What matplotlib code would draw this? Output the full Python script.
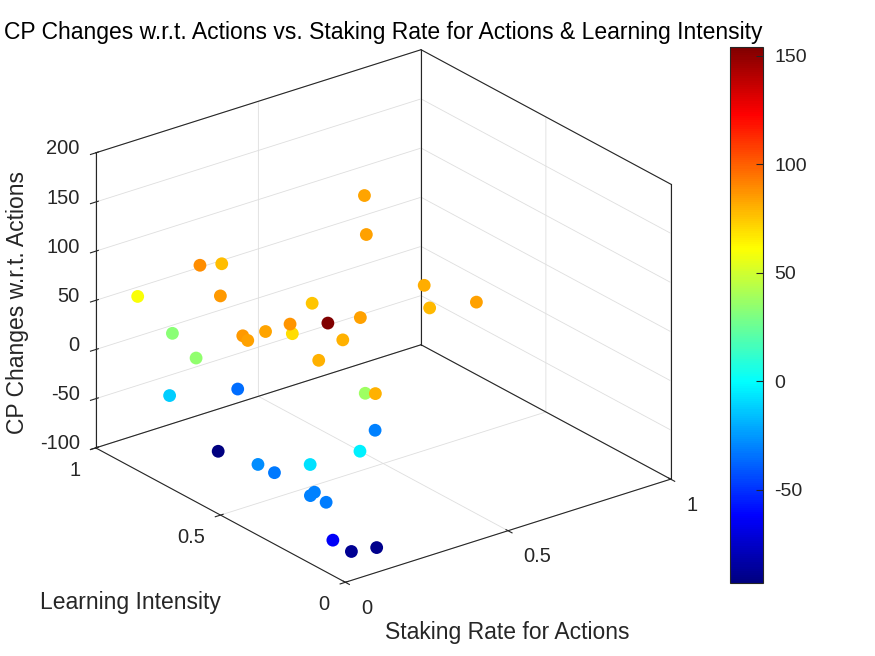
import matplotlib
matplotlib.use('Agg')
import matplotlib.pyplot as plt
import numpy as np
from matplotlib.colors import LinearSegmentedColormap

plt.rcParams['font.family'] = ['Liberation Sans', 'DejaVu Sans']
plt.rcParams['grid.color'] = '#dedede'
plt.rcParams['grid.linewidth'] = 0.6
plt.rcParams['axes.unicode_minus'] = False

# data (colour = CP change)
staking = [0.19, 0.28, 0.06, 0.13, 0.09, 0.03, 0.03, 0.10, 0.04, 0.02,
           0.26, 0.32, 0.16, 0.19, 0.00, 0.33, 0.23, 0.11, 0.78, 0.64,
           0.58, 0.52, 0.61, 0.23, 0.10, 0.36, 0.16, 0.20, 0.00, 0.02,
           0.03, 0.00, 0.02, 0.01, 0.00, 0.08, 0.15]
learning = [0.83, 0.86, 0.91, 0.67, 0.81, 0.45, 0.43, 0.45, 0.65, 0.73,
            0.77, 0.55, 0.43, 0.46, 0.07, 0.37, 0.31, 0.25, 0.94, 0.75,
            0.44, 0.34, 0.27, 0.22, 0.01, 0.35, 0.15, 0.77, 0.35, 0.31,
            0.18, 0.14, 0.15, 0.09, 0.05, 0.08, 0.07]
cp_change = [89, 77, 60, 86, 33, 86, 84, 83, 35, -12,
             -36, 75, 87, 70, 154, 84, 80, 80, 83, 84,
             81, 78, 84, 38, 80, -31, -4, -93, -28, -33,
             -8, -31, -31, -32, -64, -88, -90]

xticks = [0, 0.5, 1]
xticklabels = ['0', '0.5', '1']
zticks = [-100, -50, 0, 50, 100, 150, 200]
cbar_ticks = [-50, 0, 50, 100, 150]

# matlab style jet
jet_m = LinearSegmentedColormap.from_list('jet_m', [
    (0, (0, 0, 0.5)), (1/8, (0, 0, 1)), (3/8, (0, 1, 1)),
    (5/8, (1, 1, 0)), (7/8, (1, 0, 0)), (1, (0.5, 0, 0))])

W, H = 875, 656
TXT = '#262626'
fig = plt.figure(figsize=(W/100, H/100), dpi=100)
ax = fig.add_axes([0, 0, 1, 1], projection='3d', proj_type='ortho',
                  computed_zorder=False)
ax.view_init(elev=24.4, azim=-127.5)
aspect = (1, 1, 0.79)
ax.set_box_aspect(aspect)
ax.patch.set_visible(False)

sc = ax.scatter(staking, learning, cp_change, c=cp_change, cmap=jet_m,
                s=85, linewidths=0, depthshade=False, alpha=1, zorder=3)

x0, x1 = 0, 1
y0, y1 = 0, 1
z0, z1 = -100, 200
ax.set_xlim(x0, x1)
ax.set_ylim(y0, y1)
ax.set_zlim(z0, z1)
ax.set_xticks(xticks)
ax.set_yticks(xticks)
ax.set_zticks(zticks)
# tick labels are placed by hand further down, matlab style
ax.set_xticklabels([])
ax.set_yticklabels([])
ax.set_zticklabels([])
ax.tick_params(axis='both', colors=TXT)
ax.tick_params(axis='z', colors=TXT)

for a in (ax.xaxis, ax.yaxis, ax.zaxis):
    a.set_pane_color((1, 1, 1, 0))
    a.pane.set_edgecolor((1, 1, 1, 0))
    a.line.set_color((0, 0, 0, 0))

# box edges on the back planes (matlab BoxStyle 'back')
edges = [
    ((x0, x1), (y1, y1), (z1, z1)),
    ((x1, x1), (y1, y0), (z1, z1)),
    ((x1, x1), (y1, y1), (z0, z1)),
    ((x0, x0), (y1, y1), (z0, z1)),
    ((x1, x1), (y0, y0), (z0, z1)),
    ((x0, x1), (y1, y1), (z0, z0)),
    ((x1, x1), (y1, y0), (z0, z0)),
    ((x0, x1), (y0, y0), (z0, z0)),
    ((x0, x0), (y0, y1), (z0, z0)),
]
for ex, ey, ez in edges:
    ax.plot(ex, ey, ez, color=TXT, lw=0.8, zorder=2)


def to_px(xs, ys, zs):
    fig.canvas.draw()
    M = ax.get_proj()
    v = np.vstack([xs, ys, zs, np.ones(len(xs))])
    w = M @ v
    p = np.column_stack([w[0] / w[3], w[1] / w[3]])
    return ax.transData.transform(p)


# fit the box to where it sits in the reference
cx, cy, cz = [x0, x1, (x0 + x1) / 2], [y1, y0, (y0 + y1) / 2], [z0, z0, (z0 + z1) / 2]
p = to_px(cx, cy, cz)
zoom = 575.0 / (p[1, 0] - p[0, 0])
ax.set_box_aspect(aspect, zoom=zoom)
p = to_px(cx, cy, cz)
dx = (383.2 - p[2, 0]) / W
dy = ((H - 316.0) - p[2, 1]) / H
pos = ax.get_position(original=True)
ax.set_position([pos.x0 + dx, pos.y0 + dy, pos.width, pos.height])


def tick_text(px, texts, ddx, ddy, ha):
    for (u, v), t in zip(px, texts):
        fig.text((u + ddx) / W, (v + ddy) / H, t, ha=ha, va='center',
                 fontsize=14.5, color=TXT)


n = len(xticks)
tick_text(to_px(xticks, [y0] * n, [z0] * n), xticklabels, 15.5, -26, 'left')
tick_text(to_px([x0] * n, xticks, [z0] * n), xticklabels, -15.5, -22.5, 'right')
nz = len(zticks)
tick_text(to_px([x0] * nz, [y1] * nz, zticks), [str(t) for t in zticks], -16, 4, 'right')

fig.text(383 / W, 1 - 32 / H, 'CP Changes w.r.t. Actions vs. Staking Rate for Actions & Learning Intensity',
         ha='center', va='center', fontsize=16.5, color='black')
fig.text(18 / W, 1 - 302 / H, 'CP Changes w.r.t. Actions', rotation=90,
         ha='center', va='center', fontsize=16.5, color=TXT)
fig.text(130 / W, 1 - 602 / H, 'Learning Intensity',
         ha='center', va='center', fontsize=16.5, color=TXT)
fig.text(507 / W, 1 - 632 / H, 'Staking Rate for Actions',
         ha='center', va='center', fontsize=16.5, color=TXT)

cax = fig.add_axes([730 / W, 1 - 583.3 / H, 33 / W, (583.3 - 47) / H])
cb = fig.colorbar(sc, cax=cax, ticks=cbar_ticks)
cb.outline.set_linewidth(0.8)
cb.outline.set_edgecolor(TXT)
cax.tick_params(direction='in', length=5, width=0.8, labelsize=14,
                colors=TXT, pad=8)

fig.savefig('out.png', dpi=100)
